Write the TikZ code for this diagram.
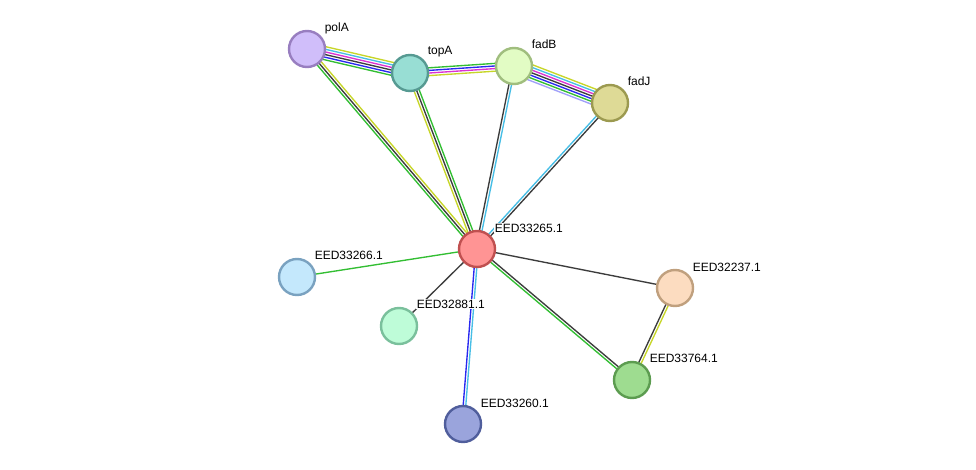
\documentclass[tikz,border=0pt]{standalone}
\usepackage{fontspec}
\setmainfont{Liberation Sans}
\usetikzlibrary{calc}

% evidence channel colours
\definecolor{cTxt}{RGB}{199,214,40}
\definecolor{cDb}{RGB}{70,190,230}
\definecolor{cExp}{RGB}{220,50,210}
\definecolor{cCoex}{RGB}{60,60,60}
\definecolor{cCooc}{RGB}{40,40,240}
\definecolor{cNbh}{RGB}{50,190,50}
\definecolor{cHom}{RGB}{160,160,250}

% node colours (fill / rim)
\definecolor{polAf}{RGB}{208,190,250}\definecolor{polAd}{RGB}{152,126,192}
\definecolor{topAf}{RGB}{152,222,212}\definecolor{topAd}{RGB}{86,154,146}
\definecolor{fadBf}{RGB}{226,252,196}\definecolor{fadBd}{RGB}{160,190,126}
\definecolor{fadJf}{RGB}{222,218,150}\definecolor{fadJd}{RGB}{156,154,80}
\definecolor{hubf}{RGB}{255,148,148}\definecolor{hubd}{RGB}{192,80,80}
\definecolor{e266f}{RGB}{196,232,252}\definecolor{e266d}{RGB}{122,162,192}
\definecolor{e881f}{RGB}{190,252,216}\definecolor{e881d}{RGB}{122,192,156}
\definecolor{e260f}{RGB}{154,164,220}\definecolor{e260d}{RGB}{80,94,156}
\definecolor{e237f}{RGB}{252,220,192}\definecolor{e237d}{RGB}{192,160,126}
\definecolor{e764f}{RGB}{158,220,144}\definecolor{e764d}{RGB}{92,156,80}

\tikzset{
  prot/.style={circle, minimum size=36pt, inner sep=0pt, line width=2.4pt},
  lbl/.style={anchor=west, inner sep=0.6pt, fill=white,
              font=\fontsize{12}{14}\selectfont, text=black},
  chan/.style={line width=1.35pt},
}

% bundle of parallel lines between two nodes: #1,#2 nodes, #3 count, #4 colours
\newcommand{\mlink}[4]{%
  \foreach \cc [count=\ii] in {#4} {%
    \pgfmathsetmacro\off{(\ii-(#3+1)/2)*2.6}%
    \draw[chan, \cc] ($(#1)!\off pt!90:(#2)$) -- ($(#2)!\off pt!-90:(#1)$);%
  }%
}

\begin{document}
\begin{tikzpicture}[x=1pt, y=-1pt]
\useasboundingbox[fill=white] (0,0) rectangle (976,470);

% node centres
\coordinate (polA) at (307,49);
\coordinate (topA) at (410,73);
\coordinate (fadB) at (514,66);
\coordinate (fadJ) at (610,103);
\coordinate (hub)  at (477,249);
\coordinate (e266) at (297,277);
\coordinate (e881) at (399,326);
\coordinate (e260) at (463,424);
\coordinate (e237) at (675,288);
\coordinate (e764) at (632,380);

% interaction bundles
\mlink{polA}{topA}{6}{cNbh,cCooc,cCoex,cExp,cDb,cTxt}
\mlink{topA}{fadB}{4}{cTxt,cExp,cCooc,cNbh}
\mlink{fadB}{fadJ}{7}{cHom,cNbh,cCooc,cCoex,cExp,cDb,cTxt}
\mlink{polA}{hub}{3}{cNbh,cCoex,cTxt}
\mlink{topA}{hub}{3}{cTxt,cCoex,cNbh}
\mlink{fadB}{hub}{2}{cCoex,cDb}
\mlink{fadJ}{hub}{2}{cDb,cCoex}
\mlink{hub}{e266}{1}{cNbh}
\mlink{hub}{e881}{1}{cCoex}
\mlink{hub}{e260}{2}{cCooc,cDb}
\mlink{hub}{e237}{1}{cCoex}
\mlink{hub}{e764}{2}{cNbh,cCoex}
\mlink{e237}{e764}{2}{cCoex,cTxt}

% proteins
\node[prot, fill=polAf, draw=polAd] (nPolA) at (polA) {};
\node[prot, fill=topAf, draw=topAd] (nTopA) at (topA) {};
\node[prot, fill=fadBf, draw=fadBd] (nFadB) at (fadB) {};
\node[prot, fill=fadJf, draw=fadJd] (nFadJ) at (fadJ) {};
\node[prot, fill=hubf,  draw=hubd]  (nHub)  at (hub)  {};
\node[prot, fill=e266f, draw=e266d] (nE266) at (e266) {};
\node[prot, fill=e881f, draw=e881d] (nE881) at (e881) {};
\node[prot, fill=e260f, draw=e260d] (nE260) at (e260) {};
\node[prot, fill=e237f, draw=e237d] (nE237) at (e237) {};
\node[prot, fill=e764f, draw=e764d] (nE764) at (e764) {};

% labels
\node[lbl] (tPolA) at ($(polA)+(17,-21)$) {polA};
\node[lbl] (tTopA) at ($(topA)+(17,-21)$) {topA};
\node[lbl] (tFadB) at ($(fadB)+(17,-22)$) {fadB};
\node[lbl] (tFadJ) at ($(fadJ)+(17,-22)$) {fadJ};
\node[lbl] (tHub)  at ($(hub)+(17,-21)$)  {EED33265.1};
\node[lbl] (tE266) at ($(e266)+(17,-22)$) {EED33266.1};
\node[lbl] (tE881) at ($(e881)+(17,-22)$) {EED32881.1};
\node[lbl] (tE260) at ($(e260)+(17,-21)$) {EED33260.1};
\node[lbl] (tE237) at ($(e237)+(17,-21)$) {EED32237.1};
\node[lbl] (tE764) at ($(e764)+(17,-22)$) {EED33764.1};
\end{tikzpicture}
\end{document}
